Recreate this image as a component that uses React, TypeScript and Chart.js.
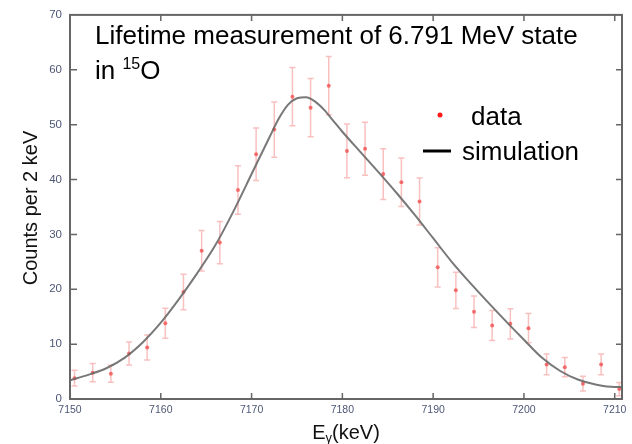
import { useEffect, useRef } from "react";
import { Chart, registerables } from "chart.js";

Chart.register(...registerables);

// ---- data ----
const xTicks = [7150, 7160, 7170, 7180, 7190, 7200, 7210];
const yTicks = [0, 10, 20, 30, 40, 50, 60, 70];

const dataE = [
  7150.5, 7152.5, 7154.5, 7156.5, 7158.5, 7160.5, 7162.5, 7164.5, 7166.5, 7168.5,
  7170.5, 7172.5, 7174.5, 7176.5, 7178.5, 7180.5, 7182.5, 7184.5, 7186.5, 7188.5,
  7190.5, 7192.5, 7194.5, 7196.5, 7198.5, 7200.5, 7202.5, 7204.5, 7206.5, 7208.5,
  7210.5,
];
const dataCounts = [
  3.8, 4.8, 4.6, 8.3, 9.4, 13.8, 19.5, 27.0, 28.5, 38.1,
  44.6, 49.1, 55.1, 53.1, 57.1, 45.2, 45.6, 41.0, 39.5, 36.0,
  24.0, 19.8, 15.9, 13.4, 13.7, 12.9, 6.3, 5.8, 2.8, 6.3,
  1.8,
];
const dataErr = [
  1.45, 1.66, 1.57, 2.1, 2.27, 2.72, 3.24, 3.69, 3.84, 4.41,
  4.78, 5.02, 5.32, 5.29, 5.3, 4.9, 4.84, 4.62, 4.44, 4.29,
  3.57, 3.32, 2.87, 2.72, 2.75, 2.66, 1.9, 1.75, 1.36, 1.9,
  1.2,
];

const simE = [
  7150, 7152, 7154, 7156, 7158, 7160, 7162, 7164, 7166, 7168, 7170, 7172, 7173,
  7174, 7175, 7176, 7177, 7178, 7179, 7180, 7182, 7184, 7186, 7188, 7190, 7192,
  7194, 7196, 7198, 7200, 7202, 7204, 7206, 7208, 7210, 7210.8,
];
const simCounts = [
  3.4, 4.4, 5.6, 7.5, 10.3, 13.9, 18.2, 22.9, 28.0, 34.2, 41.0, 47.8, 51.1,
  53.6, 54.8, 55.0, 54.2, 52.7, 50.7, 48.7, 45.0, 41.3, 37.5, 33.5, 29.3, 25.1,
  21.3, 17.7, 14.2, 10.8, 7.5, 5.1, 3.5, 2.6, 2.2, 2.2,
];

const titleLine1 = "Lifetime measurement of 6.791 MeV state";
const titleLine2 = "in ";
const titleSup = "15";
const titleElem = "O";
const legendLabels = ["data", "simulation"];
const yAxisTitle = "Counts per 2 keV";
const xAxisTitle = ["E", "\u03b3", "(keV)"];

const FONT = "'Liberation Sans', Arial, sans-serif";

const overlay = {
  id: "overlay",
  beforeDatasetsDraw(chart: any) {
    const { ctx, scales } = chart;
    const x = scales.x;
    const y = scales.y;
    ctx.save();
    ctx.strokeStyle = "rgba(240,90,90,0.38)";
    ctx.lineWidth = 1.5;
    dataE.forEach((e, i) => {
      const px = x.getPixelForValue(e);
      const y1 = y.getPixelForValue(dataCounts[i] + dataErr[i]);
      const y2 = y.getPixelForValue(Math.max(0, dataCounts[i] - dataErr[i]));
      ctx.beginPath();
      ctx.moveTo(px, y1);
      ctx.lineTo(px, y2);
      ctx.moveTo(px - 3, y1);
      ctx.lineTo(px + 3, y1);
      ctx.moveTo(px - 3, y2);
      ctx.lineTo(px + 3, y2);
      ctx.stroke();
    });
    ctx.restore();
  },
  afterDraw(chart: any) {
    const { ctx, chartArea, scales } = chart;
    const { left, right, top, bottom } = chartArea;
    const x = scales.x;
    const y = scales.y;
    ctx.save();
    // frame
    ctx.strokeStyle = "#666666";
    ctx.lineWidth = 2;
    ctx.strokeRect(left, top, right - left, bottom - top);
    // inward ticks on all sides
    ctx.lineWidth = 1.5;
    ctx.beginPath();
    xTicks.forEach((v) => {
      const px = x.getPixelForValue(v);
      if (px <= left + 1 || px >= right - 1) return;
      ctx.moveTo(px, bottom);
      ctx.lineTo(px, bottom - 6);
      ctx.moveTo(px, top);
      ctx.lineTo(px, top + 6);
    });
    yTicks.forEach((v) => {
      const py = y.getPixelForValue(v);
      if (py <= top + 1 || py >= bottom - 1) return;
      ctx.moveTo(left, py);
      ctx.lineTo(left + 7, py);
      ctx.moveTo(right, py);
      ctx.lineTo(right - 6, py);
    });
    ctx.stroke();

    // y axis title
    ctx.fillStyle = "#111";
    ctx.font = `20px ${FONT}`;
    ctx.textAlign = "center";
    ctx.textBaseline = "middle";
    ctx.save();
    ctx.translate(31, 208);
    ctx.rotate(-Math.PI / 2);
    ctx.fillText(yAxisTitle, 0, 0);
    ctx.restore();

    // x axis title with subscript
    ctx.textAlign = "left";
    ctx.textBaseline = "alphabetic";
    const bigF = `20px ${FONT}`;
    const subF = `13px ${FONT}`;
    ctx.font = bigF;
    const wE = ctx.measureText(xAxisTitle[0]).width;
    const wR = ctx.measureText(xAxisTitle[2]).width;
    ctx.font = subF;
    const wG = ctx.measureText(xAxisTitle[1]).width;
    const cx = (left + right) / 2;
    let sx = cx - (wE + wG + wR) / 2;
    const by = 439;
    ctx.font = bigF;
    ctx.fillText(xAxisTitle[0], sx, by);
    sx += wE;
    ctx.font = subF;
    ctx.fillText(xAxisTitle[1], sx, by + 3);
    sx += wG;
    ctx.font = bigF;
    ctx.fillText(xAxisTitle[2], sx, by);

    // title
    ctx.fillStyle = "#000";
    const tF = `26px ${FONT}`;
    ctx.font = tF;
    ctx.fillText(titleLine1, 95, 44);
    const w1 = ctx.measureText(titleLine2).width;
    ctx.fillText(titleLine2, 95, 79);
    ctx.font = `16px ${FONT}`;
    ctx.fillText(titleSup, 95 + w1, 69);
    const wS = ctx.measureText(titleSup).width;
    ctx.font = tF;
    ctx.fillText(titleElem, 95 + w1 + wS, 79);

    // legend
    ctx.fillStyle = "#ff1a1a";
    ctx.beginPath();
    ctx.arc(440, 115, 2.5, 0, Math.PI * 2);
    ctx.fill();
    ctx.fillStyle = "#000";
    ctx.font = tF;
    ctx.fillText(legendLabels[0], 471, 125);
    ctx.strokeStyle = "#000";
    ctx.lineWidth = 3;
    ctx.beginPath();
    ctx.moveTo(423, 151);
    ctx.lineTo(451, 151);
    ctx.stroke();
    ctx.fillText(legendLabels[1], 462, 160);
    ctx.restore();
  },
};

export default function App() {
  const ref = useRef<HTMLCanvasElement | null>(null);
  useEffect(() => {
    if (!ref.current) return;
    const chart = new Chart(ref.current, {
      type: "line",
      data: {
        datasets: [
          {
            label: legendLabels[1],
            data: simE.map((e, i) => ({ x: e, y: simCounts[i] })),
            borderColor: "rgba(105,105,105,0.9)",
            borderWidth: 2,
            pointRadius: 0,
            fill: false,
            cubicInterpolationMode: "monotone",
          },
          {
            label: legendLabels[0],
            data: dataE.map((e, i) => ({ x: e, y: dataCounts[i] })),
            showLine: false,
            pointRadius: 2,
            pointBackgroundColor: "rgba(240,70,70,0.75)",
            pointBorderWidth: 0,
            borderColor: "rgba(240,70,70,0.75)",
          },
        ],
      },
      options: {
        animation: false,
        responsive: false,
        layout: { padding: { left: 0, top: 13, right: 10, bottom: 0 } },
        plugins: { legend: { display: false }, tooltip: { enabled: false } },
        scales: {
          x: {
            type: "linear",
            min: 7150,
            max: 7210.8,
            grid: { display: false, drawTicks: false },
            border: { display: false },
            afterBuildTicks: (s: any) => {
              s.ticks = xTicks.map((v) => ({ value: v }));
            },
            afterFit: (s: any) => {
              s.height = 45;
            },
            ticks: {
              padding: 5,
              maxRotation: 0,
              autoSkip: false,
              color: "#4d5775",
              font: { family: FONT, size: 10.5 },
              callback: (v: any) => String(v),
            },
          },
          y: {
            type: "linear",
            min: 0,
            max: 70,
            grid: { display: false, drawTicks: false },
            border: { display: false },
            afterBuildTicks: (s: any) => {
              s.ticks = yTicks.map((v) => ({ value: v }));
            },
            afterFit: (s: any) => {
              s.width = 70;
            },
            ticks: {
              padding: 8,
              autoSkip: false,
              color: "#4d5775",
              font: { family: FONT, size: 11.5 },
              callback: (v: any) => String(v),
            },
          },
        },
      },
      plugins: [overlay],
    } as any);
    return () => chart.destroy();
  }, []);
  return (
    <div style={{ position: "fixed", left: 0, top: 0, width: 632, height: 444, background: "#fff" }}>
      <canvas ref={ref} width={632} height={444} style={{ display: "block" }} />
    </div>
  );
}
